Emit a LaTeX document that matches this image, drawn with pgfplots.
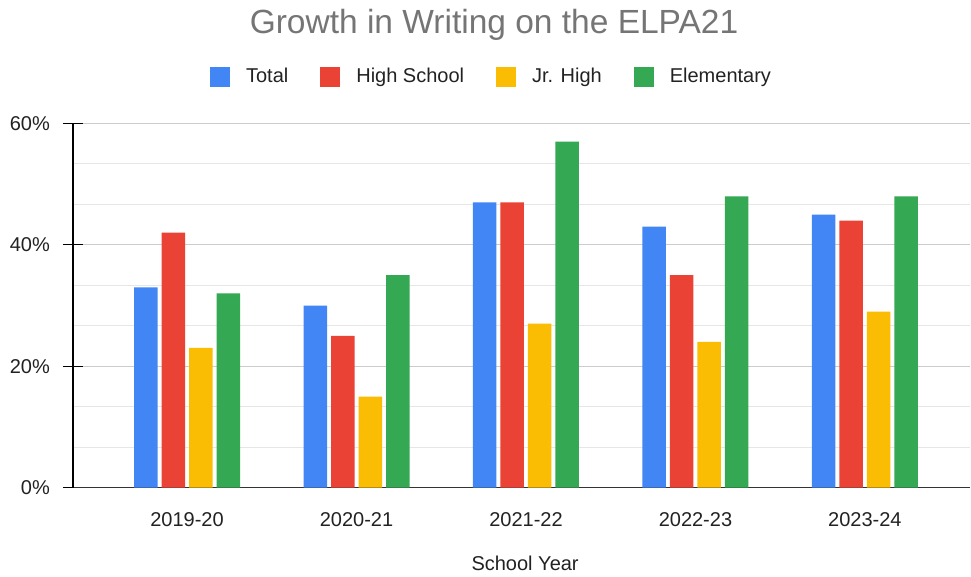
\documentclass[border=0pt]{standalone}
\usepackage{pgfplots}
\pgfplotsset{compat=1.18}
\usepackage{fontspec}
\setmainfont{Liberation Sans}

\definecolor{cTotal}{HTML}{4285F4}
\definecolor{cHigh}{HTML}{EA4335}
\definecolor{cJr}{HTML}{FBBC04}
\definecolor{cElem}{HTML}{34A853}
\definecolor{txt}{HTML}{222222}
\definecolor{ttl}{HTML}{757575}
\definecolor{gmaj}{HTML}{CCCCCC}
\definecolor{gmin}{HTML}{E6E6E6}

\begin{document}
\fontsize{20}{24}\selectfont
\begin{tikzpicture}
\useasboundingbox (0,0) rectangle (971pt,576pt);
\begin{axis}[
  at={(73pt,88.5pt)}, anchor=south west,
  scale only axis, width=897pt, height=364pt,
  ybar=4pt, bar width=23.5pt,
  xmin=-0.673, xmax=4.62, ymin=0, ymax=60,
  xtick={0,1,2,3,4},
  xticklabels={2019-20,2020-21,2021-22,2022-23,2023-24},
  ytick={0,20,40,60},
  minor y tick num=2,
  yticklabel={\pgfmathprintnumber{\tick}\%},
  /pgf/number format/assume math mode=true,
  axis x line*=bottom, axis y line*=left,
  x axis line style={-, draw=black!80, line width=1.5pt},
  y axis line style={-, draw=black, line width=1.2pt},
  ymajorgrids, yminorgrids,
  major grid style={draw=gmaj, line width=1pt},
  minor grid style={draw=gmin, line width=1pt},
  major x tick style={draw=none},
  major y tick style={draw=black, line width=1.2pt},
  minor tick length=0pt,
  major tick length=20pt, tick align=center,
  tick label style={text=txt},
  xticklabel style={anchor=north, inner sep=0pt, yshift=-15pt},
  yticklabel style={anchor=east, inner sep=0pt, xshift=-13pt},
  xlabel={School Year},
  xlabel style={at={(axis description cs:0.504,-0.209)}, anchor=center, text=txt},
  legend style={at={(axis description cs:0.4666,1.1277)}, anchor=center,
    draw=none, fill=none, legend columns=-1, text=txt,
    /tikz/every odd column/.append style={column sep=14pt},
    /tikz/every even column/.append style={column sep=30pt}},
  legend image code/.code={\fill[#1] (0pt,-10pt) rectangle (20pt,10pt);},
]
\addplot[fill=cTotal, draw=none] coordinates {(0,33) (1,30) (2,47) (3,43) (4,45)};
\addplot[fill=cHigh, draw=none] coordinates {(0,42) (1,25) (2,47) (3,35) (4,44)};
\addplot[fill=cJr, draw=none] coordinates {(0,23) (1,15) (2,27) (3,24) (4,29)};
\addplot[fill=cElem, draw=none] coordinates {(0,32) (1,35) (2,57) (3,48) (4,48)};
\legend{Total, High School, Jr. High, Elementary}
\end{axis}
\node[font=\fontsize{33.5}{40}\selectfont, text=ttl, anchor=base] at (494pt,542pt) {Growth in Writing on the ELPA21};
\end{tikzpicture}
\end{document}
